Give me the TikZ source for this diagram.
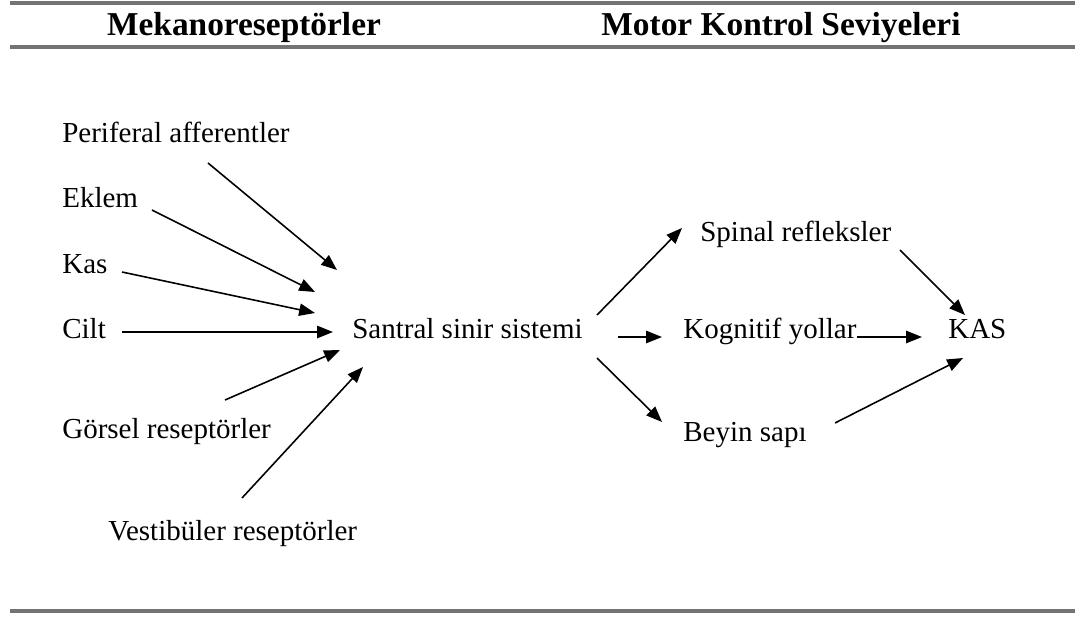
\documentclass[tikz,border=0pt]{standalone}
\usepackage{fontspec}
\setmainfont{Liberation Serif}
\usetikzlibrary{arrows.meta}
\begin{document}
\begin{tikzpicture}[x=0.02cm,y=-0.02cm,>={Triangle[length=9pt,width=7pt]},
    lbl/.style={anchor=base west,inner sep=0pt,font=\fontsize{16.5}{18}\selectfont},
    head/.style={anchor=base,inner sep=0pt,font=\fontsize{19}{21}\selectfont\bfseries},
    rule/.style={line width=1.8pt,draw=black!55},
    arr/.style={->,line width=0.9pt}]
  \useasboundingbox (0,0) rectangle (1075,616);
  % rules and column heads
  \draw [rule] (10,3) -- (1075,3);
  \draw [rule] (10,47) -- (1075,47);
  \draw [rule] (10,611) -- (1075,611);
  \node [head] (h1) at (244,35) {Mekanoreseptörler};
  \node [head] (h2) at (781,35) {Motor Kontrol Seviyeleri};
  % receptors
  \node [lbl] (per) at (62,142) {Periferal afferentler};
  \node [lbl] (ekl) at (62,207) {Eklem};
  \node [lbl] (kas) at (62,273) {Kas};
  \node [lbl] (cil) at (62,338) {Cilt};
  \node [lbl] (gor) at (62,438) {Görsel reseptörler};
  \node [lbl] (ves) at (108,540) {Vestibüler reseptörler};
  % centre and levels
  \node [lbl] (ssn) at (352,338) {Santral sinir sistemi};
  \node [lbl] (spi) at (700,241) {Spinal refleksler};
  \node [lbl] (kog) at (683,338) {Kognitif yollar};
  \node [lbl] (bey) at (683,441) {Beyin sapı};
  \node [lbl] (KAS) at (948,338) {KAS};
  % arrow ends
  \coordinate (s1) at (208,163);  \coordinate (t1) at (337,270);
  \coordinate (s2) at (152,210);  \coordinate (t2) at (315,292);
  \coordinate (s3) at (122,272);  \coordinate (t3) at (315,313);
  \coordinate (s4) at (122,332);  \coordinate (t4) at (333,332);
  \coordinate (s5) at (225,400);  \coordinate (t5) at (340,350);
  \coordinate (s6) at (242,498);  \coordinate (t6) at (363,367);
  \coordinate (u1) at (597,315);  \coordinate (v1) at (682,228);
  \coordinate (u2) at (618,337);  \coordinate (v2) at (662,337);
  \coordinate (u3) at (597,358);  \coordinate (v3) at (662,422);
  \coordinate (w1) at (900,250);  \coordinate (z1) at (965,315);
  \coordinate (w2) at (857,337);  \coordinate (z2) at (922,337);
  \coordinate (w3) at (835,423);  \coordinate (z3) at (963,358);
  \draw [arr] (s1) -- (t1);
  \draw [arr] (s2) -- (t2);
  \draw [arr] (s3) -- (t3);
  \draw [arr] (s4) -- (t4);
  \draw [arr] (s5) -- (t5);
  \draw [arr] (s6) -- (t6);
  \draw [arr] (u1) -- (v1);
  \draw [arr] (u2) -- (v2);
  \draw [arr] (u3) -- (v3);
  \draw [arr] (w1) -- (z1);
  \draw [arr] (w2) -- (z2);
  \draw [arr] (w3) -- (z3);
\end{tikzpicture}
\end{document}
